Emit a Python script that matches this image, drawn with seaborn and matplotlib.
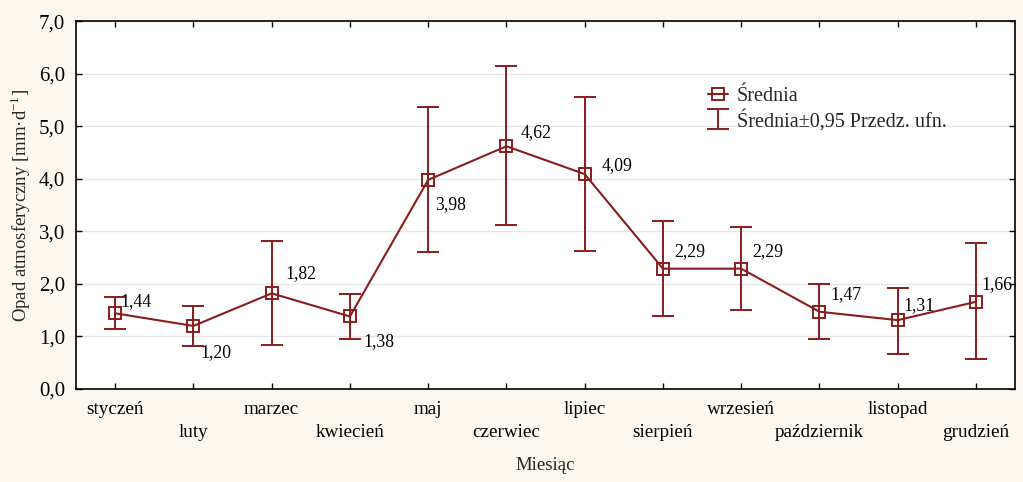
import matplotlib
matplotlib.use("Agg")
import matplotlib.pyplot as plt
import seaborn as sns
import pandas as pd
import numpy as np

months = ["styczeń", "luty", "marzec", "kwiecień", "maj", "czerwiec", "lipiec",
          "sierpień", "wrzesień", "październik", "listopad", "grudzień"]
means = [1.44, 1.20, 1.82, 1.38, 3.98, 4.62, 4.09, 2.29, 2.29, 1.47, 1.31, 1.66]
upper = [1.75, 1.58, 2.82, 1.81, 5.37, 6.14, 5.55, 3.20, 3.09, 1.99, 1.93, 2.77]
lower = [1.14, 0.81, 0.83, 0.96, 2.60, 3.12, 2.63, 1.39, 1.51, 0.95, 0.67, 0.57]
label_offsets = [(4, 2), (5, -13), (10, 8), (10, -12), (5, -12), (10, 4),
                 (12, 0), (8, 6), (8, 6), (8, 6), (4, 4), (4, 6)]

sns.set_theme(style="white")
plt.rcParams['font.family'] = ['Liberation Serif', 'DejaVu Serif']

color = "#8A1C1C"
bg = "#FCF8EF"

df = pd.DataFrame({"x": np.arange(len(months)), "mean": means})

fig = plt.figure(figsize=(10.23, 4.82), dpi=100, facecolor=bg)
ax = fig.add_axes([0.0743, 0.193, 0.918, 0.763])
ax.set_facecolor("white")

yerr = [np.array(means) - np.array(lower), np.array(upper) - np.array(means)]
ax.errorbar(df["x"], df["mean"], yerr=yerr, fmt="none", ecolor=color,
            elinewidth=1.4, capsize=8, capthick=1.4,
            label="Średnia±0,95 Przedz. ufn.", zorder=2)
sns.lineplot(data=df, x="x", y="mean", ax=ax, color=color, linewidth=1.5,
             marker="s", markersize=9, markerfacecolor="none",
             markeredgecolor=color, markeredgewidth=1.4,
             label="Średnia", zorder=3)

for i, (m, off) in enumerate(zip(means, label_offsets)):
    ax.annotate(f"{m:.2f}".replace(".", ","), (i, m), xytext=off,
                textcoords="offset points", fontsize=12.8, color="black",
                ha="left", va="bottom" if off[1] >= 0 else "top")

ax.set_xlim(-0.5, len(months) - 0.5)
ax.set_ylim(0, 7)
ax.set_yticks(np.arange(0, 8, 1))
ax.set_yticklabels([f"{v:.1f}".replace(".", ",") for v in np.arange(0, 8, 1)], fontsize=15)

xpos = np.arange(len(months))
ax.set_xticks(xpos[0::2])
ax.set_xticklabels(months[0::2], fontsize=13.8)
ax.set_xticks(xpos[1::2], minor=True)
ax.set_xticklabels(months[1::2], minor=True, fontsize=13.8)

ax.yaxis.grid(True, color="#E6E6E6", linewidth=1)
ax.xaxis.grid(False)
ax.tick_params(which="both", direction="in", length=4, width=1, colors="black",
               top=True, right=True, bottom=True, left=True)
ax.tick_params(axis="x", which="major", pad=9)
ax.tick_params(axis="x", which="minor", pad=25)
ax.tick_params(axis="y", pad=8)
for s in ax.spines.values():
    s.set_color("black")
    s.set_linewidth(1.2)

ax.set_xlabel("Miesiąc", fontsize=13.5, labelpad=12)
ax.set_ylabel("Opad atmosferyczny [mm·d$^{\\mathregular{-1}}$]", fontsize=13.5, labelpad=4)

handles, labels = ax.get_legend_handles_labels()
order = [labels.index("Średnia"), labels.index("Średnia±0,95 Przedz. ufn.")]
ax.legend([handles[k] for k in order], [labels[k] for k in order],
          loc="upper left", bbox_to_anchor=(0.654, 0.87), frameon=False,
          fontsize=14.5, handlelength=1.0, handletextpad=0.4, labelspacing=0.15)

fig.savefig("out.png", dpi=100, facecolor=bg)
